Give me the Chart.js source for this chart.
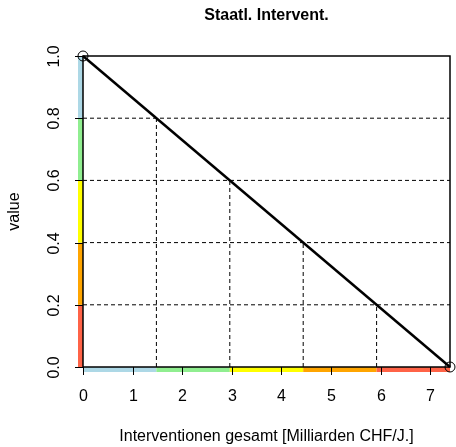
<!DOCTYPE html>
<html>
<head>
<meta charset="utf-8">
<script src="https://cdn.jsdelivr.net/npm/chart.js@4"></script>
<style>
  html, body { margin: 0; padding: 0; background: #fff; }
  #c { display: block; }
</style>
</head>
<body>
<canvas id="c" width="456" height="447"></canvas>
<script>
// Data
const lineX = [0, 7.4];
const lineY = [1, 0];
const xBreaks = [0, 1.48, 2.96, 4.44, 5.92, 7.4];
const yBreaks = [0, 0.2, 0.4, 0.6, 0.8, 1.0];
const xColors = ['#ADD8E6', '#90EE90', '#FFFF00', '#FFA500', '#FF6347'];
const yColors = ['#FF6347', '#FFA500', '#FFFF00', '#90EE90', '#ADD8E6'];
const xTicks = [0, 1, 2, 3, 4, 5, 6, 7];
const yTicks = [0, 0.2, 0.4, 0.6, 0.8, 1.0];
const yTickLabels = ['0.0', '0.2', '0.4', '0.6', '0.8', '1.0'];

const FONT = '"Liberation Sans", Arial, Helvetica, sans-serif';

// dashed guides: horizontal across, vertical up to the line
const guides = [];
for (let i = 1; i < yBreaks.length - 1; i++) {
    guides.push({
        data: [{ x: 0, y: yBreaks[i] }, { x: 7.4, y: yBreaks[i] }],
        borderColor: '#000', borderWidth: 1, borderDash: [4, 3],
        pointRadius: 0, fill: false
    });
}
for (let i = 1; i < xBreaks.length - 1; i++) {
    guides.push({
        data: [{ x: xBreaks[i], y: 0 }, { x: xBreaks[i], y: yBreaks[yBreaks.length - 1 - i] }],
        borderColor: '#000', borderWidth: 1, borderDash: [4, 3],
        pointRadius: 0, fill: false
    });
}

const axesPlugin = {
    id: 'rAxes',
    beforeDatasetsDraw(chart) {
        const { ctx, scales: { x, y } } = chart;
        const y0 = y.getPixelForValue(0);
        const x0 = x.getPixelForValue(0);
        ctx.save();
        // colour strips outside the plot
        for (let i = 0; i < xColors.length; i++) {
            ctx.fillStyle = xColors[i];
            const a = x.getPixelForValue(xBreaks[i]);
            const b = x.getPixelForValue(xBreaks[i + 1]);
            ctx.fillRect(a, y0, b - a, 5);
        }
        for (let i = 0; i < yColors.length; i++) {
            ctx.fillStyle = yColors[i];
            const a = y.getPixelForValue(yBreaks[i]);
            const b = y.getPixelForValue(yBreaks[i + 1]);
            ctx.fillRect(x0 - 5, b, 5, a - b);
        }
        ctx.restore();
    },
    afterDraw(chart) {
        const { ctx, chartArea: ca, scales: { x, y } } = chart;
        ctx.save();
        ctx.strokeStyle = '#000';
        ctx.lineWidth = 1.5;
        ctx.strokeRect(ca.left, ca.top, ca.right - ca.left, ca.bottom - ca.top);

        ctx.lineWidth = 1;
        ctx.fillStyle = '#000';
        ctx.font = '16px ' + FONT;
        // x ticks
        ctx.textAlign = 'center';
        ctx.textBaseline = 'middle';
        xTicks.forEach(v => {
            const px = Math.round(x.getPixelForValue(v)) + 0.5;
            ctx.beginPath();
            ctx.moveTo(px, ca.bottom);
            ctx.lineTo(px, ca.bottom + 8);
            ctx.stroke();
            ctx.fillText(String(v), px, ca.bottom + 30);
        });
        // y ticks
        yTicks.forEach((v, i) => {
            const py = Math.round(y.getPixelForValue(v)) + 0.5;
            ctx.beginPath();
            ctx.moveTo(ca.left, py);
            ctx.lineTo(ca.left - 8, py);
            ctx.stroke();
            ctx.save();
            ctx.translate(ca.left - 28, py);
            ctx.rotate(-Math.PI / 2);
            ctx.fillText(yTickLabels[i], 0, 0);
            ctx.restore();
        });
        // axis titles
        const cx = (ca.left + ca.right) / 2;
        const cy = (ca.top + ca.bottom) / 2;
        ctx.fillText('Interventionen gesamt [Milliarden CHF/J.]', cx, 437);
        ctx.save();
        ctx.translate(15, cy);
        ctx.rotate(-Math.PI / 2);
        ctx.fillText('value', 0, 0);
        ctx.restore();
        ctx.font = 'bold 16px ' + FONT;
        ctx.fillText('Staatl. Intervent.', cx, 16);
        ctx.restore();
    }
};

new Chart(document.getElementById('c'), {
    type: 'scatter',
    data: {
        datasets: [
            {
                data: lineX.map((v, i) => ({ x: v, y: lineY[i] })),
                showLine: true,
                borderColor: '#000',
                borderWidth: 2.5,
                pointRadius: 5,
                pointBorderWidth: 1,
                pointBorderColor: '#000',
                pointBackgroundColor: 'rgba(0,0,0,0)',
                clip: false
            },
            ...guides.map(g => Object.assign({ showLine: true }, g))
        ]
    },
    options: {
        responsive: false,
        animation: false,
        events: [],
        layout: { padding: { left: 83, right: 3, top: 56, bottom: 80 } },
        scales: {
            x: { type: 'linear', display: false, min: 0, max: 7.4 },
            y: { type: 'linear', display: false, min: 0, max: 1 }
        },
        plugins: {
            legend: { display: false },
            tooltip: { enabled: false },
            title: { display: false }
        }
    },
    plugins: [axesPlugin]
});
</script>
</body>
</html>
